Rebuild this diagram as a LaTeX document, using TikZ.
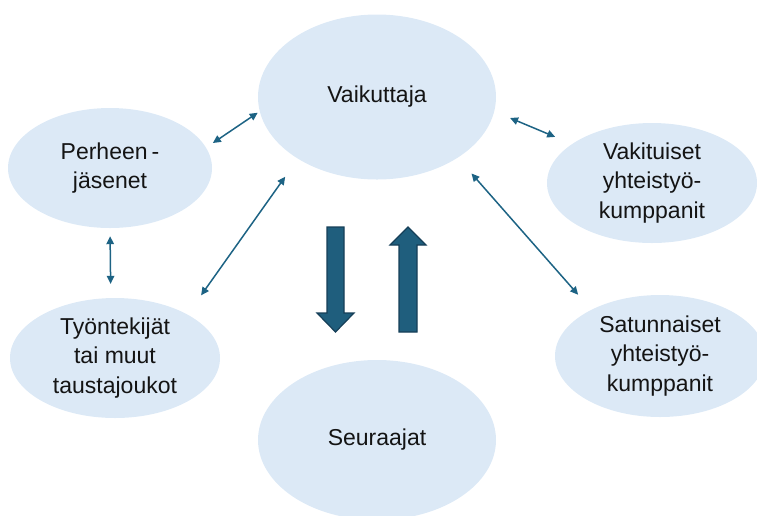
\documentclass[tikz,border=0pt]{standalone}
\usepackage{fontspec}
\setmainfont{Liberation Sans}
\usetikzlibrary{arrows.meta,shapes.geometric}
\definecolor{bubble}{HTML}{DCE9F6}
\definecolor{linkblue}{HTML}{1D6384}
\definecolor{blockfill}{HTML}{1F5E7D}
\definecolor{blockedge}{HTML}{163F58}
\tikzset{
  bubble/.style={ellipse, fill=bubble, draw=none, inner sep=0pt, align=center,
    font=\fontsize{23}{29.5}\selectfont, text=black!92},
  link/.style={draw=linkblue, line width=1.5pt,
    {Triangle[length=8pt,width=7.5pt]}-{Triangle[length=8pt,width=7.5pt]}},
  blockarrow/.style={fill=blockfill, draw=blockedge, line width=1.2pt, line join=miter}
}
\begin{document}
\begin{tikzpicture}[x=1pt,y=-1pt]
\useasboundingbox (0,0) rectangle (757,515);
\clip (0,0) rectangle (757,515);

% actors
\node[bubble, minimum width=238pt, minimum height=165pt] (vai) at (377,97) {Vaikuttaja};
\node[bubble, minimum width=238pt, minimum height=160pt] (seu) at (377,440) {Seuraajat};
\node[bubble, minimum width=204pt, minimum height=120pt] (per) at (110,168) {Perheen\kern4pt-\\jäsenet};
\node[bubble, minimum width=210pt, minimum height=120pt] (tyo) at (115,358) {Työntekijät\\tai muut\\taustajoukot};
\node[bubble, minimum width=210pt, minimum height=120pt] (vak) at (652,183) {Vakituiset\\yhteistyö-\\kumppanit};
\node[bubble, minimum width=210pt, minimum height=122pt] (sat) at (660,356) {Satunnaiset\\yhteistyö-\\kumppanit};

% two-way links
\draw[link, shorten <=8.1pt, shorten >=2.3pt] (per.12.8) -- (vai.187.2);
\draw[link, shorten <=8pt, shorten >=14pt] (per.270) -- (tyo.94.8);
\draw[link, shorten <=23.4pt, shorten >=21.9pt] (tyo.31.8) -- (vai.218.6);
\draw[link, shorten <=17pt, shorten >=18.2pt] (vai.353.6) -- (vak.154.4);
\draw[link, shorten <=20.8pt, shorten >=19.9pt] (vai.323.5) -- (sat.146.3);

% influence down, feedback up
\draw[blockarrow] (327,227) -- (344,227) -- (344,313) -- (354,313) -- (335.5,332)
  -- (317,313) -- (327,313) -- cycle;
\draw[blockarrow] (399,332) -- (417,332) -- (417,245) -- (426,245) -- (408,227)
  -- (390,245) -- (399,245) -- cycle;
\end{tikzpicture}
\end{document}
